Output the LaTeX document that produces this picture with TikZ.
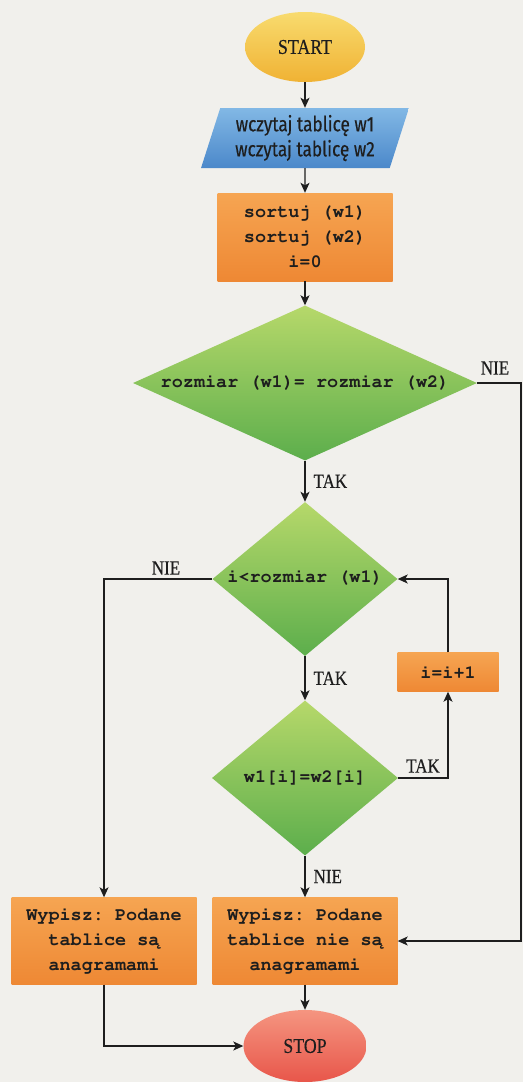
\documentclass[tikz,border=0pt]{standalone}
\usepackage[T1]{fontenc}
\usepackage{fontspec}
\usetikzlibrary{shapes.geometric,arrows.meta,calc}
\setmainfont{Liberation Serif}
\newfontfamily\labelfont[FakeStretch=0.85,FakeBold=0.35]{Liberation Serif}
\newfontfamily\inputfont[FakeStretch=0.82,FakeBold=0.35]{Fira Sans}
% bold Courier-like face for the program statements
\newcommand\codefont{\fontencoding{T1}\fontfamily{pcr}\fontseries{b}\fontshape{n}\fontsize{18.5}{25}\selectfont\frenchspacing}

\definecolor{paper}{HTML}{F1F0EC}
\definecolor{ink}{HTML}{1E1E1E}
\definecolor{yelT}{HTML}{F8DB6E}\definecolor{yelB}{HTML}{F0B234}
\definecolor{bluT}{HTML}{82B8E5}\definecolor{bluB}{HTML}{4B88CA}
\definecolor{oraT}{HTML}{F6A552}\definecolor{oraB}{HTML}{EE8834}
\definecolor{grnT}{HTML}{B6D86A}\definecolor{grnB}{HTML}{5CAE4C}
\definecolor{redT}{HTML}{F59580}\definecolor{redB}{HTML}{E8564A}

\tikzset{
  terminal/.style={ellipse, inner sep=0pt, draw=none, text=ink,
    font=\labelfont\fontsize{21}{22}\selectfont},
  startbox/.style={terminal, top color=yelT, bottom color=yelB},
  stopbox/.style={terminal, top color=redT, bottom color=redB},
  iobox/.style={trapezium, trapezium left angle=72, trapezium right angle=108,
    trapezium stretches=true, inner sep=2pt, top color=bluT, bottom color=bluB,
    font=\inputfont\fontsize{21}{25}\selectfont, text=ink, align=center},
  procbox/.style={rectangle, inner sep=0pt, top color=oraT, bottom color=oraB,
    font=\codefont, text=ink, align=center},
  decision/.style={diamond, inner sep=0pt, top color=grnT, bottom color=grnB},
  codetext/.style={font=\codefont, text=ink, align=center, inner sep=0pt},
  lbl/.style={font=\labelfont\fontsize{20}{22}\selectfont, text=ink, inner sep=0pt},
  flow/.style={draw=ink, line width=1.2pt, -{Stealth[length=10pt,width=9pt,inset=2.5pt]}},
}

\begin{document}
\begin{tikzpicture}[x=1pt, y=-1pt]
  \fill[paper] (0,0) rectangle (523,1082);
  \useasboundingbox (0,0) rectangle (523,1082);

  % terminals, input and processing blocks
  \node[startbox, minimum width=120pt, minimum height=70pt] (start) at (305,47) {START};
  \node[iobox, minimum width=208pt, minimum height=60pt] (in) at (305,138)
    {wczytaj tablicę w1\\wczytaj tablicę w2};
  \node[procbox, minimum width=175pt, minimum height=88pt] (sort) at (305,237)
    {sortuj (w1)\\sortuj (w2)\\i=0};

  % decisions
  \node[decision, minimum width=344pt, minimum height=155pt] (d1) at (305,383) {};
  \node[codetext] (d1text) at (305,382) {rozmiar (w1)= rozmiar (w2)};
  \node[decision, minimum width=185pt, minimum height=154pt] (d2) at (305,579) {};
  \node[codetext] (d2text) at (305,577) {i<rozmiar (w1)};
  \node[decision, minimum width=186pt, minimum height=155pt] (d3) at (305,778) {};
  \node[codetext] (d3text) at (305,777) {w1[i]=w2[i]};

  \node[procbox, minimum width=101pt, minimum height=39pt] (inc) at (448,672) {i=i+1};

  % results
  \node[procbox, minimum width=185pt, minimum height=87pt] (out1) at (104,941)
    {Wypisz: Podane\\tablice s\k{a}\\anagramami};
  \node[procbox, minimum width=185pt, minimum height=87pt] (out2) at (305,941)
    {Wypisz: Podane\\tablice nie s\k{a}\\anagramami};
  \node[stopbox, minimum width=123pt, minimum height=72pt] (stop) at (305,1046) {STOP};

  \coordinate (rt) at (521,383);

  % main flow
  \draw[flow] (start) -- (in);
  \draw[flow] (in) -- (sort);
  \draw[flow] (sort) -- (d1);
  \draw[flow] (d1) -- node[lbl, right=8pt] (tak1) {TAK} (d2);
  \draw[flow] (d2) -- node[lbl, right=8pt] (tak2) {TAK} (d3);
  \draw[flow] (d3) -- node[lbl, right=8pt] (nie3) {NIE} (out2);
  \draw[flow] (out2) -- (stop);

  % loop back through i=i+1
  \draw[flow] (d3.east) -- (d3.east -| inc.south) -- (inc.south);
  \node[lbl] (tak3) at (423,766) {TAK};
  \draw[flow] (inc.north) -- (inc.north |- d2.east) -- (d2.east);

  % loop exit: arrays are anagrams
  \draw[flow] (d2.west) -- (d2.west -| out1.north) -- (out1.north);
  \node[lbl] (nie2) at (166,568) {NIE};
  \draw[flow] (out1.south) -- (out1.south |- stop.west) -- (stop.west);

  % sizes differ
  \draw[flow] (d1.east) -- (rt) -- (rt |- out2.east) -- (out2.east);
  \node[lbl] (nie1) at (495,368) {NIE};
\end{tikzpicture}
\end{document}
